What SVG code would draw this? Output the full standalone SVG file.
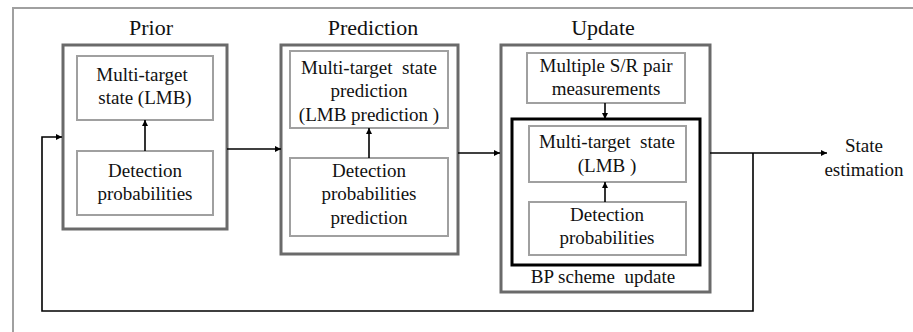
<svg xmlns="http://www.w3.org/2000/svg" width="913" height="332" viewBox="0 0 913 332" font-family="'Liberation Serif', 'Times New Roman', serif">
<defs>
<style>
text{fill:#111;text-anchor:middle}
.t{font-size:22px}
.b{font-size:19px}
.frame{fill:none;stroke:#a0a0a0;stroke-width:2}
.outer{fill:#fff;stroke:#6a6a6a;stroke-width:3}
.inner{fill:#fff;stroke:#a0a0a0;stroke-width:2}
.bp{fill:none;stroke:#000;stroke-width:3}
.c{fill:none;stroke:#000;stroke-width:1.6}
</style>
<marker id="ah" viewBox="0 0 10 10" refX="10" refY="5" markerWidth="6" markerHeight="6" markerUnits="userSpaceOnUse" orient="auto"><path d="M0,0 L10,5 L0,10 z" fill="#000"/></marker>
</defs>
<rect width="913" height="332" fill="#fff"/>
<path class="frame" d="M13,332 V8 H913"/>

<g id="prior">
<text class="t" x="151" y="35">Prior</text>
<rect class="outer" x="63" y="45" width="164" height="184"/>
</g>
<g id="prior-state">
<rect class="inner" x="77" y="56" width="136" height="64"/>
<text class="b" x="142" y="81">Multi-target</text>
<text class="b" x="145" y="104">state (LMB)</text>
</g>
<g id="prior-detection">
<rect class="inner" x="77" y="151" width="136" height="64"/>
<text class="b" x="145" y="177">Detection</text>
<text class="b" x="145" y="200">probabilities</text>
</g>

<g id="prediction">
<text class="t" x="373" y="35">Prediction</text>
<rect class="outer" x="281" y="45" width="177" height="209"/>
</g>
<g id="prediction-state">
<rect class="inner" x="290" y="51" width="158" height="77"/>
<text class="b" x="369" y="74">Multi-target&#160; state</text>
<text class="b" x="369" y="97">prediction</text>
<text class="b" x="369" y="121">(LMB prediction )</text>
</g>
<g id="prediction-detection">
<rect class="inner" x="290" y="158" width="158" height="78"/>
<text class="b" x="369" y="177">Detection</text>
<text class="b" x="369" y="200">probabilities</text>
<text class="b" x="369" y="224">prediction</text>
</g>

<g id="update">
<text class="t" x="603" y="35">Update</text>
<rect class="outer" x="501" y="45" width="209" height="247"/>
<text class="b" x="603" y="283">BP scheme&#160; update</text>
</g>
<g id="measurements">
<rect class="inner" x="527" y="53" width="158" height="50"/>
<text class="b" x="606" y="72">Multiple S/R pair</text>
<text class="b" x="606" y="95">measurements</text>
</g>
<g id="bp-scheme">
<rect class="bp" x="512" y="119" width="188" height="146"/>
</g>
<g id="update-state">
<rect class="inner" x="529" y="126" width="157" height="56"/>
<text class="b" x="607" y="148">Multi-target&#160; state</text>
<text class="b" x="607" y="172">(LMB )</text>
</g>
<g id="update-detection">
<rect class="inner" x="529" y="202" width="157" height="53"/>
<text class="b" x="607" y="221">Detection</text>
<text class="b" x="607" y="244">probabilities</text>
</g>

<g id="state-estimation">
<text class="b" x="864" y="152">State</text>
<text class="b" x="864" y="176">estimation</text>
</g>

<g id="connectors">
<path class="c" marker-end="url(#ah)" d="M145,151 V120"/>
<path class="c" marker-end="url(#ah)" d="M369,158 V128"/>
<path class="c" marker-end="url(#ah)" d="M605,103 V119"/>
<path class="c" marker-end="url(#ah)" d="M605,202 V182"/>
<path class="c" marker-end="url(#ah)" d="M227,149 H281"/>
<path class="c" marker-end="url(#ah)" d="M458,153 H500"/>
<path class="c" marker-end="url(#ah)" d="M710,153 H827"/>
<path class="c" marker-end="url(#ah)" d="M753,153 V311 H42 V137 H62"/>
</g>
</svg>
